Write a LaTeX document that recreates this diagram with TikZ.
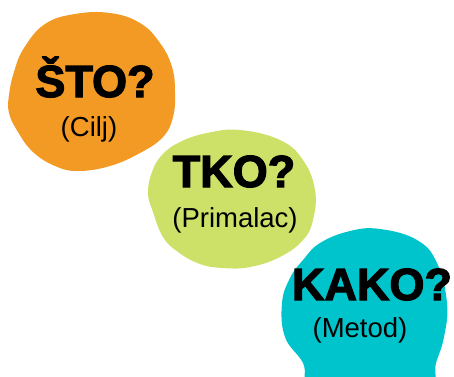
\documentclass[tikz,border=0pt]{standalone}
\usepackage{fontspec}
\setmainfont{Liberation Sans}
\newfontfamily\heavyfont{Liberation Sans Bold}[FakeBold=2.6]
\definecolor{blobOrange}{RGB}{242,154,35}
\definecolor{blobGreen}{RGB}{205,225,105}
\definecolor{blobCyan}{RGB}{0,196,204}
\begin{document}
\begin{tikzpicture}[x=1pt,y=-1pt,
  blob/.style={draw=none},
  title/.style={anchor=base,inner sep=0pt,font=\heavyfont\fontsize{45}{45}\selectfont},
  sub/.style={anchor=base,inner sep=0pt,font=\fontsize{27.5}{27.5}\selectfont}]
\useasboundingbox (0,0) rectangle (454,376);
\clip (0,0) rectangle (454,376);
% orange blob
\fill[blobOrange,blob] plot[smooth cycle,tension=0.7] coordinates {
 (110,13) (140,23) (160,43) (172,67) (175,92) (173,117) (163,137) (140,153)
 (110,166) (78,171) (55,166) (33,152) (18,132) (9,113) (9,95) (14,72)
 (24,48) (45,24) (75,14)};
% green blob
\fill[blobGreen,blob] plot[smooth cycle,tension=0.7] coordinates {
 (240,130) (280,140) (303,160) (315,190) (313,220) (303,240) (280,257)
 (250,267) (223,268) (200,264) (178,252) (163,237) (153,212) (148,193)
 (152,172) (162,155) (180,142) (207,133)};
% cyan blob
\fill[blobCyan,blob] plot[smooth cycle,tension=0.7] coordinates {
 (380,229) (417,240) (437,263) (447,303) (444,337) (436,363) (428,390)
 (370,398) (312,390) (303,363) (285,337) (282,303) (290,278) (303,260)
 (320,243) (350,231)};
% texts
\node[title] (q1) at (95,97) {ŠTO?};
\node[sub] (a1) at (89,136) {(Cilj)};
\node[title] (q2) at (234,187) {TKO?};
\node[sub] (a2) at (235,227) {(Primalac)};
\node[title] (q3) at (372,300) {KAKO?};
\node[sub] (a3) at (360,337) {(Metod)};
\end{tikzpicture}
\end{document}
